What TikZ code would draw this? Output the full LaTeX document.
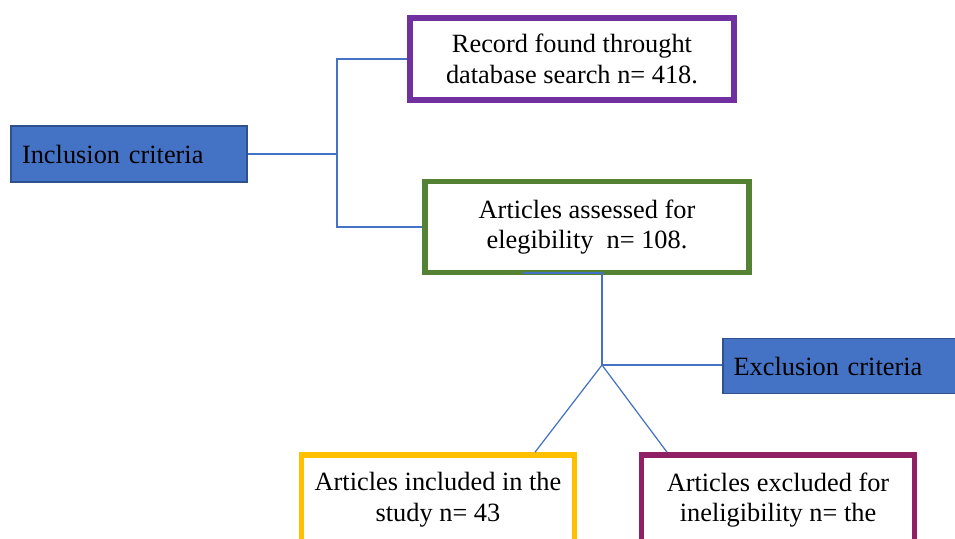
\documentclass[tikz,border=0pt]{standalone}
\usepackage{fontspec}
\setmainfont{Liberation Serif}
\usepackage{xcolor}
\usepackage{tikz}
\usetikzlibrary{calc}

\definecolor{critblue}{HTML}{4472C4}
\definecolor{critdark}{HTML}{2F528F}
\definecolor{recpurple}{HTML}{7030A0}
\definecolor{assgreen}{HTML}{548235}
\definecolor{incyellow}{HTML}{FFC000}
\definecolor{excmaroon}{HTML}{902063}

\begin{document}
\begin{tikzpicture}[
    x=0.02cm, y=-0.02cm,
    font=\fontsize{15}{17.5}\selectfont,
    crit/.style={draw=critdark, fill=critblue, line width=1.1pt, text width=#1,
                 align=left, inner sep=0.22cm, minimum height=1.12cm},
    stage/.style={draw=#1, fill=white, line width=3.2pt, align=center, inner sep=2pt},
    link/.style={critblue, line width=0.7pt},
  ]
    \useasboundingbox (0,0) rectangle (955,538);
    \clip (0,0) rectangle (955,538);

    % --- criteria boxes --------------------------------------------------
    \node[crit=4.28cm] (incl) at (129,154) {Inclusion criteria};
    \node[crit=4.5cm, minimum height=1.1cm] (excl) at (846,366) {Exclusion criteria};

    % --- stages ----------------------------------------------------------
    \node[stage=recpurple, minimum width=6.48cm, minimum height=1.64cm] (rec) at (572,59)
      {Record found throught\\database search n= 418.};
    \node[stage=assgreen, minimum width=6.48cm, minimum height=1.82cm] (ass) at (587,227)
      {Articles assessed for\\elegibility~ n= 108.};
    \node[stage=incyellow, minimum width=5.46cm, minimum height=1.8cm] (inc) at (438,500)
      {Articles included in the\\study n= 43};
    \node[stage=excmaroon, minimum width=5.46cm, minimum height=1.8cm] (exc) at (778,500)
      {Articles excluded for\\ineligibility n= the};

    % --- connectors ------------------------------------------------------
    \coordinate (split) at (337,154);
    \coordinate (gbot) at (523,273);
    \coordinate (fork) at (602,365);

    \draw[link] (incl.east) -- (split);
    \draw[link] (rec.west) -| (split) |- (ass.west);
    \draw[link] (gbot) -| (fork);
    \draw[link] (fork) -- (fork -| excl.west);
    \draw[link] (fork) -- ($(inc.north)+(97,0)$);
    \draw[link] (fork) -- ($(exc.north)+(-111,0)$);
  \end{tikzpicture}
\end{document}
